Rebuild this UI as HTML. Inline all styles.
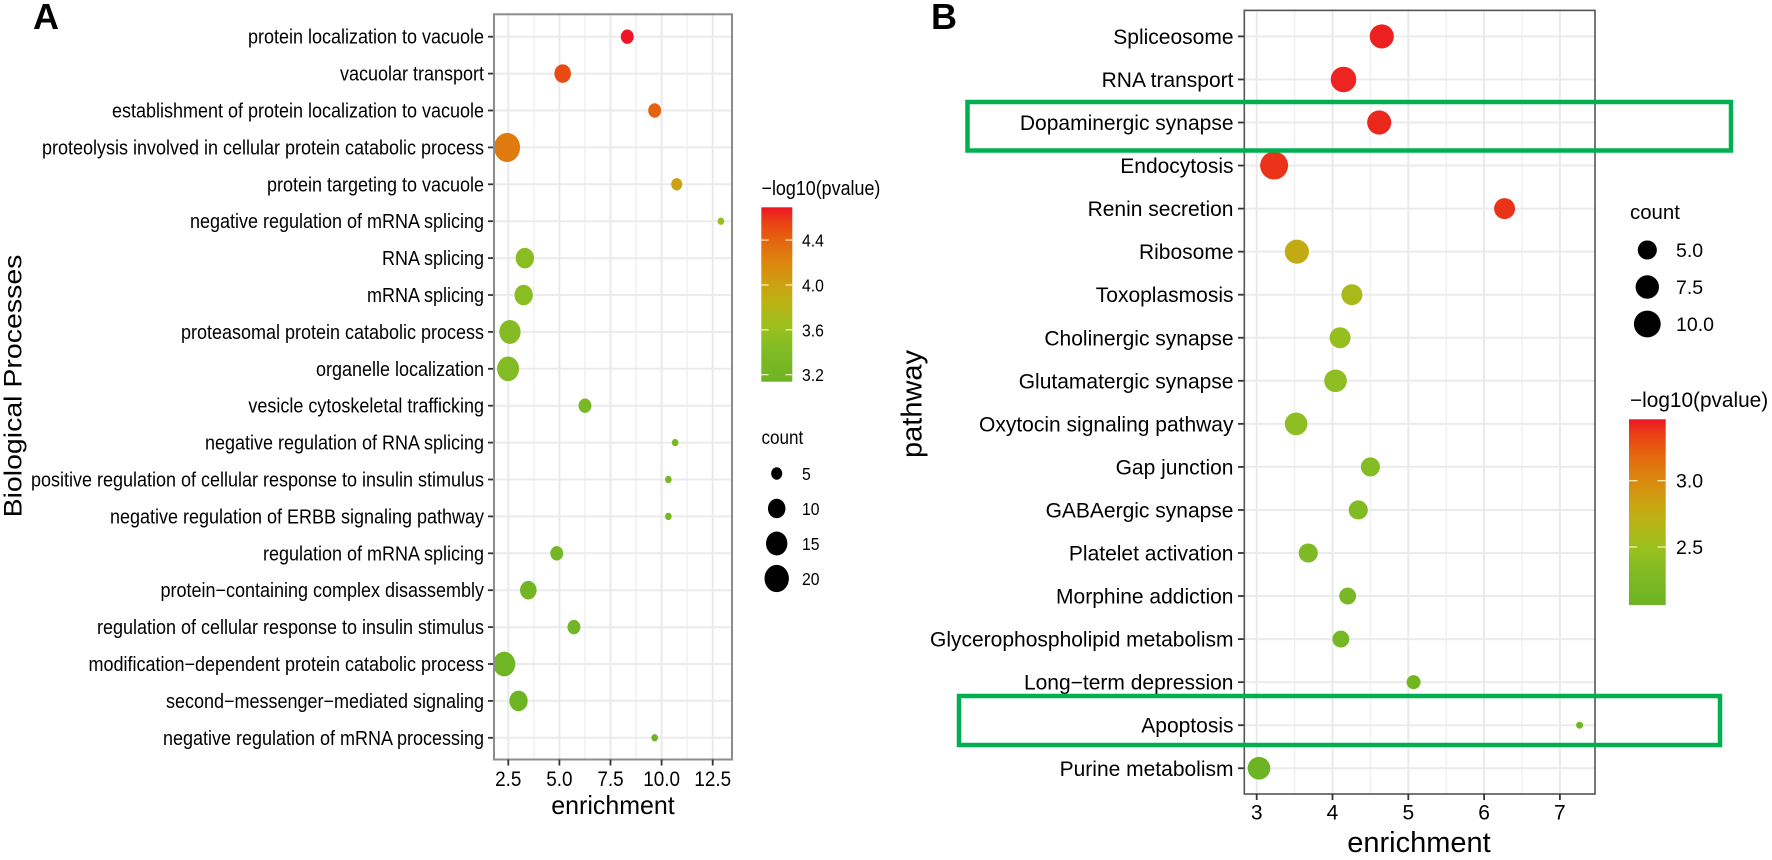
<!DOCTYPE html>
<html>
<head>
<meta charset="utf-8">
<title>Enrichment dot plots</title>
<style>
html,body{margin:0;padding:0;background:#fff;width:1772px;height:860px;overflow:hidden}
svg{display:block;font-family:"Liberation Sans",sans-serif;fill:#000;filter:blur(.35px)}
text{fill:#000}
</style>
</head>
<body>
<svg id="chart" width="1772" height="860" viewBox="0 0 1772 860" xmlns="http://www.w3.org/2000/svg">
<defs>
<linearGradient id="ramp-a" x1="0" y1="1" x2="0" y2="0"></linearGradient>
<linearGradient id="ramp-b" x1="0" y1="1" x2="0" y2="0"></linearGradient>
</defs>
<text x="33" y="29" font-size="36" font-weight="bold" style="fill:#000">A</text>
<text x="931" y="29" font-size="36" font-weight="bold" style="fill:#000">B</text>
<g id="panel-a"></g>
<g id="panel-b"></g>
<rect x="967.5" y="102" width="763.5" height="48.5" fill="none" stroke="#00b050" stroke-width="4.5"></rect>
<rect x="959" y="696" width="761" height="49" fill="none" stroke="#00b050" stroke-width="4.5"></rect>
</svg>
<script>
// Panel A data
const categoriesA = ["protein localization to vacuole","vacuolar transport","establishment of protein localization to vacuole","proteolysis involved in cellular protein catabolic process","protein targeting to vacuole","negative regulation of mRNA splicing","RNA splicing","mRNA splicing","proteasomal protein catabolic process","organelle localization","vesicle cytoskeletal trafficking","negative regulation of RNA splicing","positive regulation of cellular response to insulin stimulus","negative regulation of ERBB signaling pathway","regulation of mRNA splicing","protein\u2212containing complex disassembly","regulation of cellular response to insulin stimulus","modification\u2212dependent protein catabolic process","second\u2212messenger\u2212mediated signaling","negative regulation of mRNA processing"];
const enrichmentA = [8.32,5.16,9.66,2.44,10.74,12.9,3.31,3.25,2.58,2.49,6.25,10.66,10.33,10.33,4.87,3.48,5.71,2.3,3.0,9.66];
const countA = [6,9,6,23,5,4,11,11,15,16,6,4,4,4,6,9,6,16,11,4];
const pvalueA = [4.69,4.52,4.41,4.27,3.99,3.6,3.5,3.5,3.46,3.42,3.3,3.3,3.26,3.26,3.24,3.22,3.2,3.18,3.16,3.16];
const xTicksA = [2.5,5,7.5,10,12.5];
const xTickLabelsA = ["2.5","5.0","7.5","10.0","12.5"];
const xMinorTicksA = [3.75,6.25,8.75,11.25];
const colorTicksA = [4.4,4.0,3.6,3.2];
const colorTickLabelsA = ["4.4","4.0","3.6","3.2"];
const sizeTicksA = [5,10,15,20];
const sizeTickLabelsA = ["5","10","15","20"];

// Panel B data
const categoriesB = ["Spliceosome","RNA transport","Dopaminergic synapse","Endocytosis","Renin secretion","Ribosome","Toxoplasmosis","Cholinergic synapse","Glutamatergic synapse","Oxytocin signaling pathway","Gap junction","GABAergic synapse","Platelet activation","Morphine addiction","Glycerophospholipid metabolism","Long\u2212term depression","Apoptosis","Purine metabolism"];
const enrichmentB = [4.65,4.145,4.616,3.23,6.27,3.53,4.256,4.1,4.04,3.52,4.5,4.34,3.68,4.2,4.11,5.07,7.26,3.03];
const countB = [8,9,8,11,6,8,6,6,7,7,5,5,5,4,4,3,2,7];
const pvalueB = [3.43,3.42,3.41,3.38,3.38,2.76,2.58,2.45,2.41,2.41,2.34,2.3,2.26,2.2,2.17,2.13,2.1,2.07];
const xTicksB = [3,4,5,6,7];
const xTickLabelsB = ["3","4","5","6","7"];
const xMinorTicksB = [3.5,4.5,5.5,6.5];
const colorTicksB = [3.0,2.5];
const colorTickLabelsB = ["3.0","2.5"];
const sizeTicksB = [5,7.5,10];
const sizeTickLabelsB = ["5.0","7.5","10.0"];

// Axis functions
const SVG_NS = "http://www.w3.org/2000/svg";
function xA(v){ return 508.3 + (v - 2.5) * 20.44; }
function yA(i){ return 36.7 + i * 36.9; }
function rA(c){ return 3.3 + 9.7 * Math.sqrt(Math.max(0, c - 4) / 19); }
function tA(v){ return (v - 3.14) / (4.69 - 3.14); }
function cyA(v){ return 374.7 - (v - 3.2) * 112.2; }
function xB(v){ return 1256.7 + (v - 3) * 75.8; }
function yB(i){ return 36.4 + i * 43.05; }
function rB(c){ return 3.5 + 10.5 * Math.sqrt(Math.max(0, c - 2) / 9); }
function tB(v){ return (v - 2.06) / (3.46 - 2.06); }
function cyB(v){ return 547 - (v - 2.5) * 132.6; }

const rampAt = [0,.2,.3,.45,.55,.67,.81,.92,1];
const rampRGB = [[108,180,36],[132,188,36],[152,192,30],[186,180,20],[203,162,16],[218,138,14],[229,101,15],[234,63,20],[238,21,38]];
function ramp(t){
  t = Math.min(1, Math.max(0, t));
  for (let k = 1; k < rampAt.length; k++) {
    if (t <= rampAt[k]) {
      const f = (t - rampAt[k-1]) / (rampAt[k] - rampAt[k-1]);
      const a = rampRGB[k-1], b = rampRGB[k];
      return "rgb(" + Math.round(a[0]+(b[0]-a[0])*f) + "," + Math.round(a[1]+(b[1]-a[1])*f) + "," + Math.round(a[2]+(b[2]-a[2])*f) + ")";
    }
  }
  return "rgb(238,21,38)";
}
function mk(parent, tag, attrs){
  const el = document.createElementNS(SVG_NS, tag);
  for (const k in attrs) el.setAttribute(k, attrs[k]);
  parent.appendChild(el);
  return el;
}
function line(parent, x1, y1, x2, y2, stroke, w){
  return mk(parent, "line", {x1:x1, y1:y1, x2:x2, y2:y2, stroke:stroke, "stroke-width":w});
}
function label(parent, str, x, y, size, anchor, sx, rot){
  const tf = "translate(" + x + "," + y + ")" + (rot ? " rotate(-90)" : "") + " scale(" + sx + ",1)";
  const el = mk(parent, "text", {transform:tf, "font-size":size, "text-anchor":anchor});
  el.textContent = str;
  return el;
}
function fillGradient(id){
  const g = document.getElementById(id);
  for (let k = 0; k < rampAt.length; k++) {
    const s = mk(g, "stop", {offset:rampAt[k], "stop-color":ramp(rampAt[k])});
    
    
  }
}
fillGradient("ramp-a");
fillGradient("ramp-b");

// ---------- Panel A ----------
const pa = document.getElementById("panel-a");
const L_A = 494, R_A = 732, T_A = 14.3, B_A = 759.5;
xMinorTicksA.forEach(function(v){
  const el = line(pa, xA(v), T_A, xA(v), B_A, "#f0f0f2", 1.5);
  
  
});
xTicksA.forEach(function(v){
  const el = line(pa, xA(v), T_A, xA(v), B_A, "#e9e9ec", 2);
  
  
});
categoriesA.forEach(function(c, i){
  const g = line(pa, L_A, yA(i), R_A, yA(i), "#ebebed", 2);
  
  
  const t = line(pa, 488, yA(i), L_A, yA(i), "#333", 1.8);
  
  
  const lb = label(pa, c, 484, yA(i) + 7, 20, "end", 0.9, false);
  
  
});
categoriesA.forEach(function(c, i){
  const r = rA(countA[i]);
  const el = mk(pa, "ellipse", {cx:xA(enrichmentA[i]), cy:yA(i), rx:r, ry:r * 1.12, fill:ramp(tA(pvalueA[i]))});
  
  
});
const frameA = mk(pa, "rect", {x:L_A, y:T_A, width:R_A - L_A, height:B_A - T_A, fill:"none", stroke:"#8c8c8c", "stroke-width":2});


xTicksA.forEach(function(v, i){
  const t = line(pa, xA(v), B_A, xA(v), B_A + 6, "#333", 1.8);
  
  
  const lb = label(pa, xTickLabelsA[i], xA(v), 786, 21, "middle", 0.9, false);
  
  
});
const xtA = label(pa, "enrichment", 613, 814, 26, "middle", 0.96, false);


const ytA = label(pa, "Biological Processes", 21.5, 386, 25, "middle", 1.14, true);



const ltA = label(pa, "\u2212log10(pvalue)", 761.5, 195, 20, "start", 0.895, false);


const barA = mk(pa, "rect", {x:761.3, y:207.3, width:31, height:174.4, fill:"url(#ramp-a)"});


colorTicksA.forEach(function(v, i){
  const t1 = line(pa, 761.3, cyA(v), 768.5, cyA(v), "#fff3c8", 1.2);
  
  
  const t2 = line(pa, 785.5, cyA(v), 792.3, cyA(v), "#fff3c8", 1.2);
  
  
  const lb = label(pa, colorTickLabelsA[i], 802, cyA(v) + 6.5, 17.5, "start", 0.9, false);
  
  
});
const cntA = label(pa, "count", 761.5, 444, 19, "start", 0.9, false);


sizeTicksA.forEach(function(c, i){
  const cy = 473.5 + i * 35;
  const r = rA(c);
  const d = mk(pa, "ellipse", {cx:776.7, cy:cy, rx:r, ry:r * 1.12, fill:"#000"});
  
  
  const lb = label(pa, sizeTickLabelsA[i], 802, cy + 6.5, 17.5, "start", 0.9, false);
  
  
});

// ---------- Panel B ----------
const pb = document.getElementById("panel-b");
const L_B = 1244.3, R_B = 1595, T_B = 10.4, B_B = 794;
xMinorTicksB.forEach(function(v){
  const el = line(pb, xB(v), T_B, xB(v), B_B, "#f0f0f0", 1.5);
  
  
});
xTicksB.forEach(function(v){
  const el = line(pb, xB(v), T_B, xB(v), B_B, "#e9e9e9", 2);
  
  
});
categoriesB.forEach(function(c, i){
  const g = line(pb, L_B, yB(i), R_B, yB(i), "#ebebeb", 2);
  
  
  const t = line(pb, 1238, yB(i), L_B, yB(i), "#333", 1.8);
  
  
  const lb = label(pb, c, 1233.5, yB(i) + 7.5, 21, "end", 1, false);
  
  
});
categoriesB.forEach(function(c, i){
  const el = mk(pb, "circle", {cx:xB(enrichmentB[i]), cy:yB(i), r:rB(countB[i]), fill:ramp(tB(pvalueB[i]))});
  
  
});
const frameB = mk(pb, "rect", {x:L_B, y:T_B, width:R_B - L_B, height:B_B - T_B, fill:"none", stroke:"#555", "stroke-width":1.6});


xTicksB.forEach(function(v, i){
  const t = line(pb, xB(v), B_B, xB(v), B_B + 6, "#333", 1.8);
  
  
  const lb = label(pb, xTickLabelsB[i], xB(v), 819.5, 21, "middle", 1, false);
  
  
});
const xtB = label(pb, "enrichment", 1419, 852, 29, "middle", 1, false);


const ytB = label(pb, "pathway", 921.5, 404, 29, "middle", 1, true);



const cntB = label(pb, "count", 1630, 219, 20.4, "start", 1, false);


sizeTicksB.forEach(function(c, i){
  const cy = 250 + i * 37;
  const d = mk(pb, "circle", {cx:1647.3, cy:cy, r:rB(c), fill:"#000"});
  
  
  const lb = label(pb, sizeTickLabelsB[i], 1676, cy + 7, 19.5, "start", 1, false);
  
  
});
const ltB = label(pb, "\u2212log10(pvalue)", 1630, 407, 20.8, "start", 1, false);


const barB = mk(pb, "rect", {x:1629, y:419.3, width:36.7, height:185.7, fill:"url(#ramp-b)"});


colorTicksB.forEach(function(v, i){
  const t1 = line(pb, 1629, cyB(v), 1637.3, cyB(v), "#fff3c8", 1.2);
  
  
  const t2 = line(pb, 1657.5, cyB(v), 1665.7, cyB(v), "#fff3c8", 1.2);
  
  
  const lb = label(pb, colorTickLabelsB[i], 1676, cyB(v) + 7, 19.5, "start", 1, false);
  
  
});
</script>
</body>
</html>
